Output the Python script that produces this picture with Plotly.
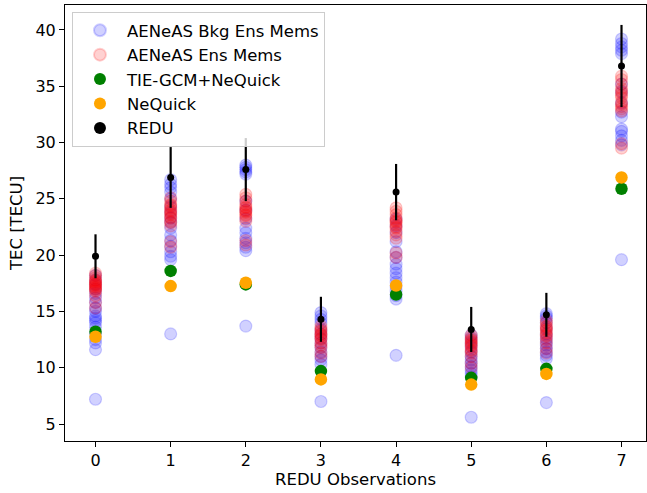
import plotly.graph_objects as go

obs = [0, 1, 2, 3, 4, 5, 6, 7]

bkg_members = [
    [7.2, 11.6, 12.2, 12.5, 13.0, 13.6, 14.0, 14.2, 14.4, 14.6, 15.0, 15.3, 15.8, 16.2, 16.6, 17.0, 17.4, 17.8, 18.2],
    [13.0, 19.6, 19.9, 20.3, 20.8, 21.3, 21.8, 22.4, 22.9, 23.3, 23.8, 24.3, 25.0, 25.6, 26.0, 26.3, 26.7],
    [13.7, 20.4, 20.7, 21.1, 21.5, 22.0, 22.4, 23.2, 24.0, 24.8, 27.2, 27.4, 27.6, 27.8, 28.0],
    [7.0, 10.3, 10.7, 11.0, 11.4, 11.8, 12.2, 12.6, 13.0, 13.4, 14.0, 14.3, 14.6, 14.9],
    [11.1, 16.1, 16.4, 16.8, 17.2, 17.6, 18.0, 18.4, 18.8, 19.2, 19.8, 20.3, 21.2, 22.0, 22.6, 23.2],
    [5.6, 9.2, 9.5, 9.8, 10.1, 10.4, 10.7, 11.0, 11.4, 11.8, 12.2, 12.6, 12.9],
    [6.9, 10.8, 11.1, 11.4, 11.7, 12.0, 12.3, 12.6, 13.0, 13.5, 14.0, 14.4, 14.6, 14.8],
    [19.6, 29.8, 30.2, 30.6, 31.0, 31.2, 32.3, 32.7, 33.5, 34.5, 35.2, 37.9, 38.2, 38.5, 38.8, 39.2],
]

ens_members = [
    [15.3, 15.8, 16.4, 16.8, 17.0, 17.2, 17.4, 17.6, 17.8, 18.0, 18.2, 18.4, 17.1, 16.9, 17.5, 17.3, 17.7],
    [20.7, 21.2, 22.6, 23.0, 23.3, 23.6, 23.9, 24.2, 24.5, 24.8, 25.1, 24.0, 23.4, 22.9, 23.7, 24.4],
    [20.9, 21.3, 23.0, 23.3, 23.6, 23.9, 24.2, 24.5, 24.8, 25.1, 25.4, 24.0, 23.5, 24.3, 23.8],
    [11.0, 11.3, 11.8, 12.2, 12.5, 12.8, 13.0, 13.2, 13.5, 13.7, 12.6, 12.0, 12.9, 13.3],
    [19.8, 20.2, 21.8, 22.1, 22.4, 22.7, 23.0, 23.3, 23.6, 23.9, 24.2, 22.5, 21.5, 23.1, 22.9],
    [10.0, 10.4, 11.0, 11.3, 11.6, 11.9, 12.1, 12.3, 12.5, 12.7, 12.9, 11.5, 12.0, 12.4],
    [11.3, 11.7, 12.2, 12.5, 12.8, 13.1, 13.4, 13.7, 14.0, 14.2, 12.9, 13.3, 13.6],
    [29.5, 29.9, 32.8, 33.2, 33.6, 34.0, 34.4, 34.8, 35.2, 35.6, 35.9, 33.0, 34.2, 34.6, 33.4],
]

tiegcm = [13.2, 18.6, 17.4, 9.7, 16.5, 9.1, 9.9, 25.9]
nequick = [12.75, 17.25, 17.55, 8.96, 17.3, 8.5, 9.45, 26.9]
redu = [19.9, 26.9, 27.6, 14.3, 25.6, 13.4, 14.7, 36.8]
redu_err = [1.95, 2.7, 2.8, 2.0, 2.5, 2.0, 1.95, 3.65]

def flatten(members):
    xs, ys = [], []
    for o, vals in zip(obs, members):
        xs += [o] * len(vals)
        ys += vals
    return xs, ys

fig = go.Figure()
bx, by = flatten(bkg_members)
ex, ey = flatten(ens_members)

blue_a = "rgba(0,0,255,0.18)"
red_a = "rgba(255,0,0,0.18)"

fig.add_trace(go.Scatter(x=bx, y=by, mode="markers", name="AENeAS Bkg Ens Mems",
                         legendgroup="a",
                         marker=dict(size=12, color=blue_a, line=dict(width=1.2, color=blue_a))))
fig.add_trace(go.Scatter(x=ex, y=ey, mode="markers", name="AENeAS Ens Mems",
                         legendgroup="b",
                         marker=dict(size=12, color=red_a, line=dict(width=1.2, color=red_a))))
fig.add_trace(go.Scatter(x=obs, y=tiegcm, mode="markers", name="TIE-GCM+NeQuick",
                         legendgroup="c",
                         marker=dict(size=12.5, color="green", line=dict(width=0))))
fig.add_trace(go.Scatter(x=obs, y=nequick, mode="markers", name="NeQuick",
                         legendgroup="d",
                         marker=dict(size=12.5, color="orange", line=dict(width=0))))
fig.add_trace(go.Scatter(x=obs, y=redu, mode="markers", name="REDU",
                         legendgroup="e",
                         marker=dict(size=7, color="black"),
                         error_y=dict(type="data", array=redu_err, color="black",
                                      thickness=2.2, width=0)))

axis_common = dict(showline=True, linecolor="black", linewidth=1, mirror=True,
                   ticks="outside", ticklen=5, tickcolor="black", showgrid=False,
                   zeroline=False, automargin=False,
                   tickfont=dict(size=16, color="black"))

fig.update_layout(
    width=647, height=493,
    margin=dict(l=65, r=1, t=5, b=52),
    paper_bgcolor="white", plot_bgcolor="white",
    font=dict(family="DejaVu Sans", size=16, color="black"),
    showlegend=True,
    legend=dict(x=0.012, y=0.984, xanchor="left", yanchor="top",
                bgcolor="rgba(255,255,255,0.8)", bordercolor="#cccccc", borderwidth=1,
                font=dict(size=16.5), tracegroupgap=0, traceorder="grouped",
                itemsizing="constant", itemwidth=44),
    xaxis=dict(range=[-0.406, 7.326], tickmode="array", tickvals=obs,
               title=dict(text="REDU Observations", font=dict(size=16.5), standoff=4),
               **axis_common),
    yaxis=dict(range=[3.49, 42.22], tickmode="array", tickvals=[5, 10, 15, 20, 25, 30, 35, 40],
               title=dict(text="TEC [TECU]", font=dict(size=16.5), standoff=8),
               **axis_common),
)

fig.write_html("out.html", config={"displayModeBar": False})

with open("out.html", "r", encoding="utf-8") as f:
    html = f.read()
html = html.replace("<body>", '<body style="margin:0;padding:0;">', 1)
with open("out.html", "w", encoding="utf-8") as f:
    f.write(html)
